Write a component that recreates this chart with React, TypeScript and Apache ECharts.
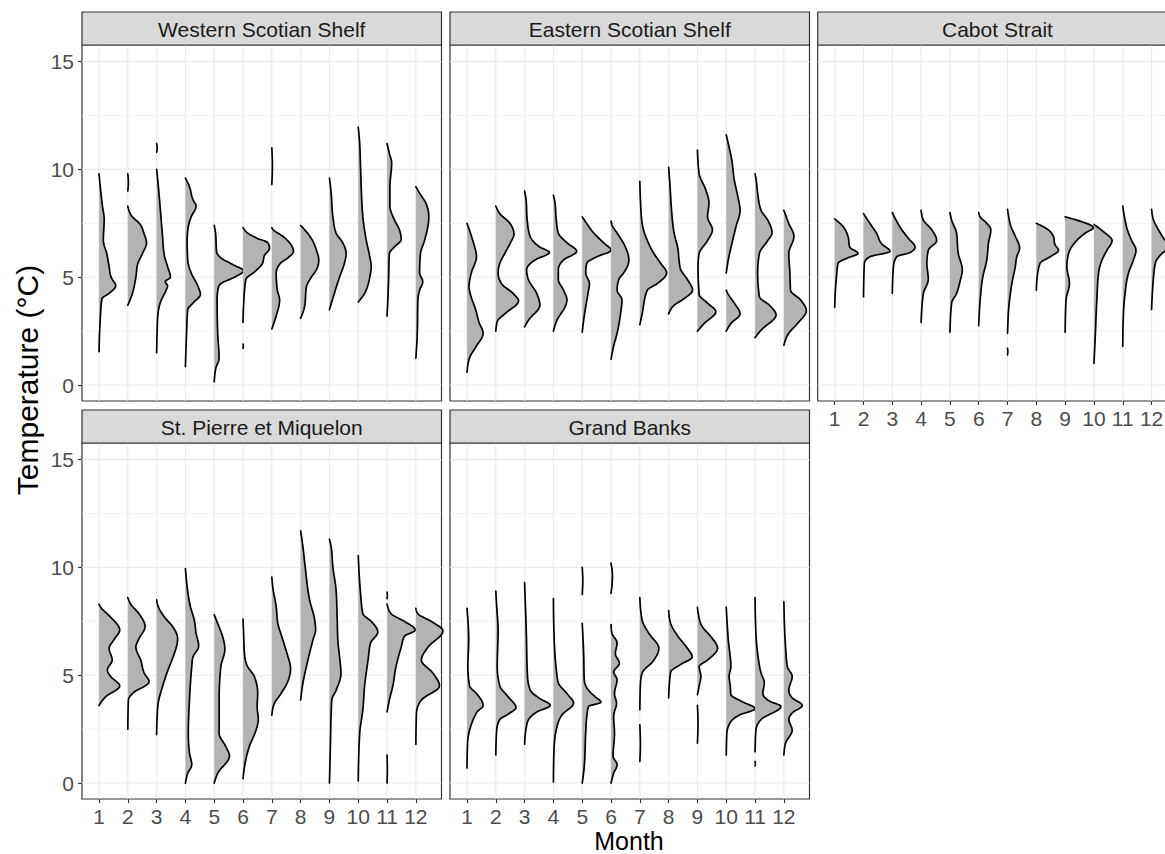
import React, { useEffect, useRef } from "react";
import * as echarts from "echarts";

// ---------- data ----------
const months = [1, 2, 3, 4, 5, 6, 7, 8, 9, 10, 11, 12];
const panelNames = [
  "Western Scotian Shelf",
  "Eastern Scotian Shelf",
  "Cabot Strait",
  "St. Pierre et Miquelon",
  "Grand Banks",
];
const yTickValues = [0, 5, 10, 15];
const yMinorValues = [2.5, 7.5, 12.5];
const xTitle = "Month";
const yTitle = "Temperature (°C)";

// each month: list of segments, each segment: [temperature, half-violin width (in month units)]
const westernScotianShelf: number[][][][] = [
  [[[1.55, 0], [2.4, 0.02], [3.2, 0.05], [4.0, 0.1], [4.25, 0.35], [4.6, 0.58], [5.0, 0.42], [5.5, 0.35], [6.1, 0.27], [6.7, 0.15], [7.7, 0.18], [8.3, 0.12], [9.0, 0.06], [9.8, 0]]],
  [[[3.7, 0], [4.25, 0.16], [5.0, 0.28], [5.6, 0.34], [6.1, 0.51], [6.6, 0.65], [7.0, 0.57], [7.5, 0.4], [7.8, 0.16], [8.3, 0]], [[9.0, 0], [9.4, 0.02], [9.8, 0]]],
  [[[1.5, 0], [2.5, 0.02], [3.2, 0.04], [3.9, 0.15], [4.4, 0.33], [4.6, 0.38], [4.8, 0.3], [5.0, 0.48], [5.5, 0.38], [6.0, 0.27], [7.0, 0.2], [8.3, 0.12], [9.5, 0.04], [10.0, 0]], [[10.8, 0], [11.0, 0.02], [11.2, 0]]],
  [[[0.85, 0], [2.4, 0.04], [3.5, 0.08], [3.8, 0.26], [4.2, 0.52], [4.6, 0.43], [5.2, 0.2], [5.8, 0.08], [6.7, 0.06], [7.35, 0.1], [7.8, 0.2], [8.3, 0.37], [8.6, 0.26], [9.2, 0.14], [9.6, 0]]],
  [[[0.15, 0], [0.8, 0.06], [1.25, 0.17], [2.4, 0.12], [4.0, 0.1], [4.5, 0.14], [4.7, 0.23], [5.0, 0.7], [5.3, 1.02], [5.55, 0.7], [5.9, 0.23], [6.2, 0.08], [7.0, 0.05], [7.4, 0]]],
  [[[1.7, 0], [1.8, 0.01], [1.9, 0]], [[2.9, 0], [3.95, 0.03], [4.9, 0.1], [5.25, 0.4], [5.65, 0.68], [6.0, 0.74], [6.35, 0.92], [6.6, 0.86], [6.8, 0.5], [7.05, 0.16], [7.3, 0]]],
  [[[2.6, 0], [3.2, 0.15], [3.95, 0.27], [4.4, 0.19], [5.2, 0.15], [5.65, 0.3], [5.9, 0.56], [6.2, 0.75], [6.5, 0.67], [6.9, 0.38], [7.2, 0.05], [7.3, 0]], [[9.3, 0], [10.2, 0.02], [11.0, 0]]],
  [[[3.1, 0], [3.65, 0.14], [4.55, 0.2], [5.0, 0.37], [5.35, 0.55], [5.8, 0.63], [6.25, 0.55], [6.8, 0.37], [7.2, 0.14], [7.4, 0]]],
  [[[3.5, 0], [4.25, 0.17], [5.0, 0.35], [5.65, 0.52], [6.1, 0.58], [6.6, 0.46], [7.05, 0.23], [7.8, 0.12], [8.9, 0.06], [9.6, 0]]],
  [[[3.85, 0], [4.25, 0.22], [4.65, 0.34], [5.0, 0.4], [5.5, 0.45], [5.95, 0.4], [6.7, 0.28], [7.8, 0.16], [10.1, 0.08], [11.2, 0.05], [11.95, 0]]],
  [[[3.2, 0], [4.7, 0.05], [6.1, 0.08], [6.4, 0.25], [6.75, 0.49], [7.2, 0.43], [7.65, 0.26], [8.3, 0.1], [9.2, 0.1], [10.3, 0.16], [10.75, 0.08], [11.2, 0]]],
  [[[1.25, 0], [2.4, 0.05], [3.95, 0.07], [4.4, 0.13], [4.8, 0.24], [5.2, 0.13], [6.1, 0.16], [6.7, 0.3], [7.8, 0.45], [8.4, 0.36], [8.9, 0.13], [9.2, 0]]],
];

const easternScotianShelf: number[][][][] = [
  [[[0.6, 0], [1.3, 0.1], [1.75, 0.3], [2.4, 0.56], [2.9, 0.42], [3.5, 0.3], [4.2, 0.12], [4.55, 0.07], [5.2, 0.15], [5.95, 0.33], [6.7, 0.2], [7.5, 0]]],
  [[[2.5, 0], [2.95, 0.05], [3.3, 0.31], [3.9, 0.79], [4.25, 0.6], [4.7, 0.2], [5.2, 0.08], [5.65, 0.14], [6.1, 0.31], [6.55, 0.49], [7.0, 0.63], [7.5, 0.49], [7.95, 0.14], [8.3, 0]]],
  [[[2.7, 0], [3.0, 0.13], [3.7, 0.53], [4.25, 0.42], [4.9, 0.13], [5.35, 0.07], [5.8, 0.36], [6.15, 0.86], [6.4, 0.53], [6.9, 0.19], [7.65, 0.09], [8.6, 0.05], [9.0, 0]]],
  [[[2.5, 0], [3.0, 0.12], [3.65, 0.41], [3.95, 0.47], [4.4, 0.35], [4.9, 0.17], [5.35, 0.17], [5.8, 0.35], [6.2, 0.81], [6.6, 0.47], [7.05, 0.17], [7.8, 0.09], [8.4, 0.06], [8.8, 0]]],
  [[[2.45, 0], [3.2, 0.07], [4.25, 0.2], [4.7, 0.25], [5.2, 0.12], [5.65, 0.16], [5.95, 0.51], [6.25, 1.0], [6.6, 0.74], [7.05, 0.4], [7.6, 0.1], [7.8, 0]]],
  [[[1.2, 0], [1.8, 0.09], [2.4, 0.21], [3.3, 0.33], [3.95, 0.38], [4.4, 0.21], [4.9, 0.27], [5.2, 0.44], [5.8, 0.62], [6.4, 0.5], [7.05, 0.21], [7.4, 0.04], [7.6, 0]]],
  [[[2.8, 0], [3.3, 0.08], [4.4, 0.26], [4.7, 0.6], [5.2, 0.93], [5.65, 0.72], [6.1, 0.49], [6.7, 0.26], [7.5, 0.08], [8.6, 0.02], [9.45, 0]]],
  [[[3.3, 0], [3.7, 0.19], [4.0, 0.53], [4.4, 0.83], [4.9, 0.65], [5.35, 0.42], [5.8, 0.36], [6.25, 0.33], [7.05, 0.19], [8.3, 0.09], [9.2, 0.05], [10.1, 0]]],
  [[[2.5, 0], [2.85, 0.23], [3.4, 0.64], [3.8, 0.35], [4.2, 0.06], [5.5, 0.02], [6.1, 0.06], [6.7, 0.35], [7.2, 0.52], [7.8, 0.35], [8.45, 0.4], [9.05, 0.29], [9.8, 0.06], [10.9, 0]]],
  [[[2.5, 0], [2.85, 0.16], [3.3, 0.48], [3.8, 0.28], [4.25, 0.05], [4.4, 0]], [[5.2, 0], [5.8, 0.07], [6.7, 0.22], [7.35, 0.34], [8.1, 0.48], [8.75, 0.4], [9.5, 0.28], [10.45, 0.19], [11.2, 0.07], [11.6, 0]]],
  [[[2.2, 0], [2.55, 0.21], [3.25, 0.73], [3.7, 0.5], [4.1, 0.15], [5.2, 0.09], [6.1, 0.15], [6.7, 0.44], [7.05, 0.59], [7.65, 0.44], [8.1, 0.21], [8.9, 0.09], [9.5, 0.04], [9.8, 0]]],
  [[[1.85, 0], [2.4, 0.17], [2.85, 0.47], [3.45, 0.78], [3.95, 0.58], [4.4, 0.23], [5.2, 0.21], [6.1, 0.17], [6.9, 0.35], [7.5, 0.17], [8.1, 0]]],
];

const cabotStrait: number[][][][] = [
  [[[3.6, 0], [5.0, 0.06], [5.65, 0.12], [5.9, 0.46], [6.1, 0.81], [6.4, 0.52], [6.9, 0.46], [7.35, 0.29], [7.7, 0]]],
  [[[4.1, 0], [5.65, 0.03], [5.95, 0.22], [6.2, 0.92], [6.55, 0.63], [7.05, 0.45], [7.5, 0.22], [7.95, 0]]],
  [[[4.25, 0], [5.5, 0.04], [5.95, 0.15], [6.15, 0.62], [6.4, 0.79], [6.8, 0.56], [7.2, 0.33], [7.75, 0.09], [8.0, 0]]],
  [[[2.9, 0], [4.25, 0.08], [4.9, 0.25], [5.65, 0.2], [6.25, 0.25], [6.7, 0.54], [7.2, 0.37], [7.65, 0.08], [8.1, 0]]],
  [[[2.45, 0], [3.8, 0.06], [4.25, 0.23], [4.8, 0.35], [5.35, 0.43], [6.1, 0.29], [7.05, 0.23], [7.65, 0.06], [8.0, 0]]],
  [[[2.75, 0], [3.95, 0.05], [5.0, 0.14], [5.8, 0.28], [6.6, 0.34], [7.2, 0.42], [7.5, 0.28], [7.8, 0.05], [8.0, 0]]],
  [[[1.4, 0], [1.55, 0.01], [1.7, 0]], [[2.4, 0], [3.95, 0.07], [4.7, 0.15], [5.5, 0.27], [5.95, 0.32], [6.35, 0.42], [6.9, 0.27], [7.35, 0.12], [7.8, 0.04], [8.15, 0]]],
  [[[4.4, 0], [5.0, 0.03], [5.65, 0.13], [5.95, 0.48], [6.25, 0.77], [6.5, 0.65], [6.9, 0.59], [7.25, 0.36], [7.5, 0]]],
  [[[2.45, 0], [3.95, 0.03], [4.7, 0.15], [5.5, 0.06], [6.1, 0.12], [6.7, 0.4], [7.05, 0.7], [7.3, 0.98], [7.6, 0.52], [7.8, 0]]],
  [[[1.0, 0], [2.4, 0.05], [3.95, 0.1], [5.2, 0.16], [5.8, 0.28], [6.25, 0.45], [6.7, 0.63], [7.1, 0.34], [7.45, 0]]],
  [[[1.8, 0], [3.2, 0.02], [4.25, 0.08], [5.2, 0.2], [5.8, 0.37], [6.25, 0.46], [6.7, 0.31], [7.2, 0.16], [7.65, 0.08], [8.3, 0]]],
  [[[3.5, 0], [4.7, 0.05], [5.65, 0.13], [6.1, 0.36], [6.4, 0.62], [6.8, 0.42], [7.2, 0.24], [7.65, 0.07], [8.15, 0]]],
];

const stPierreMiquelon: number[][][][] = [
  [[[3.6, 0], [4.0, 0.23], [4.5, 0.72], [4.95, 0.4], [5.25, 0.29], [5.7, 0.46], [6.25, 0.35], [6.65, 0.52], [7.1, 0.72], [7.7, 0.4], [8.15, 0.06], [8.3, 0]]],
  [[[2.5, 0], [3.85, 0.02], [4.15, 0.16], [4.7, 0.74], [5.1, 0.57], [5.7, 0.45], [6.3, 0.28], [6.7, 0.39], [7.25, 0.6], [7.85, 0.39], [8.3, 0.1], [8.6, 0]]],
  [[[2.25, 0], [3.55, 0.04], [4.5, 0.21], [5.4, 0.44], [5.8, 0.56], [6.7, 0.73], [7.25, 0.56], [7.7, 0.27], [8.25, 0.04], [8.5, 0]]],
  [[[0, 0], [0.45, 0.08], [0.85, 0.22], [1.4, 0.14], [2.3, 0.1], [3.85, 0.14], [5.4, 0.22], [5.8, 0.25], [6.35, 0.46], [6.95, 0.37], [7.55, 0.31], [8.2, 0.17], [9.1, 0.06], [9.95, 0]]],
  [[[0, 0], [0.45, 0.12], [1.25, 0.53], [1.7, 0.4], [2.3, 0.17], [3.85, 0.17], [5.4, 0.23], [6.2, 0.37], [6.8, 0.29], [7.4, 0.12], [7.8, 0]]],
  [[[0.2, 0], [0.75, 0.05], [1.7, 0.22], [2.45, 0.45], [2.95, 0.53], [3.55, 0.49], [4.15, 0.51], [4.95, 0.39], [5.4, 0.16], [6.0, 0.05], [6.95, 0.02], [7.6, 0]]],
  [[[3.15, 0], [3.7, 0.09], [4.15, 0.32], [4.8, 0.58], [5.3, 0.65], [6.0, 0.53], [6.65, 0.38], [7.4, 0.21], [8.2, 0.15], [9.1, 0.03], [9.55, 0]]],
  [[[3.85, 0], [4.65, 0.08], [5.4, 0.2], [6.65, 0.43], [7.1, 0.52], [7.55, 0.49], [8.5, 0.31], [10.0, 0.16], [10.95, 0.08], [11.7, 0]]],
  [[[0, 0], [1.55, 0.03], [3.85, 0.08], [4.3, 0.23], [5.1, 0.4], [5.85, 0.35], [6.65, 0.29], [7.55, 0.27], [8.95, 0.23], [10.0, 0.12], [10.95, 0.06], [11.3, 0]]],
  [[[0.1, 0], [2.3, 0.05], [3.4, 0.16], [4.5, 0.22], [5.7, 0.34], [6.5, 0.43], [7.0, 0.68], [7.5, 0.45], [7.85, 0.16], [8.8, 0.08], [10.55, 0]]],
  [[[0, 0], [0.65, 0.01], [1.3, 0]], [[3.3, 0], [3.85, 0.08], [4.5, 0.2], [5.4, 0.31], [6.3, 0.49], [6.8, 0.6], [7.1, 0.98], [7.5, 0.6], [7.85, 0.14], [8.2, 0.02], [8.3, 0]], [[8.55, 0], [8.7, 0.01], [8.85, 0]]],
  [[[1.8, 0], [3.25, 0.02], [3.85, 0.19], [4.5, 0.82], [5.1, 0.59], [5.7, 0.19], [6.3, 0.42], [7.05, 0.94], [7.5, 0.53], [7.85, 0.07], [8.1, 0]]],
];

const grandBanks: number[][][][] = [
  [[[0.7, 0], [1.85, 0.02], [2.45, 0.09], [3.1, 0.27], [3.3, 0.35], [3.6, 0.56], [4.15, 0.33], [4.5, 0.09], [5.4, 0.03], [6.65, 0.06], [8.1, 0]]],
  [[[1.3, 0], [2.45, 0.03], [2.95, 0.14], [3.15, 0.37], [3.5, 0.7], [4.0, 0.43], [4.5, 0.14], [5.4, 0.05], [7.1, 0.08], [8.2, 0.03], [8.9, 0]]],
  [[[1.8, 0], [2.6, 0.06], [2.95, 0.14], [3.3, 0.43], [3.6, 0.89], [3.95, 0.49], [4.3, 0.2], [4.95, 0.1], [6.95, 0.06], [9.3, 0]]],
  [[[0.05, 0], [1.55, 0.02], [2.6, 0.12], [3.15, 0.29], [3.7, 0.7], [4.15, 0.47], [4.65, 0.17], [5.4, 0.09], [6.95, 0.02], [8.55, 0]]],
  [[[0, 0], [0.75, 0.07], [2.3, 0.12], [3.1, 0.16], [3.55, 0.22], [3.75, 0.65], [4.0, 0.45], [4.3, 0.22], [4.8, 0.07], [6.0, 0.05], [7.4, 0]], [[8.75, 0], [9.4, 0.02], [10.0, 0]]],
  [[[0, 0], [0.45, 0.09], [0.85, 0.21], [1.25, 0.07], [2.3, 0.12], [3.1, 0.09], [3.7, 0.19], [4.15, 0.12], [4.8, 0.21], [5.15, 0.09], [5.55, 0.29], [6.0, 0.15], [6.5, 0.21], [6.95, 0.03], [7.35, 0]], [[8.8, 0], [9.6, 0.05], [10.2, 0]]],
  [[[1.0, 0], [1.8, 0.02], [2.7, 0]], [[3.4, 0], [4.6, 0.02], [5.1, 0.08], [5.7, 0.49], [6.25, 0.66], [6.95, 0.31], [7.55, 0.08], [8.6, 0]]],
  [[[3.95, 0], [5.15, 0.07], [5.5, 0.42], [5.85, 0.82], [6.25, 0.65], [6.85, 0.3], [7.4, 0.07], [8.0, 0]]],
  [[[1.85, 0], [2.8, 0.02], [3.6, 0]], [[4.1, 0], [4.5, 0.06], [4.95, 0.12], [5.4, 0.06], [5.7, 0.35], [6.25, 0.7], [6.8, 0.46], [7.25, 0.17], [7.85, 0.03], [8.15, 0]]],
  [[[1.3, 0], [2.3, 0.02], [2.85, 0.16], [3.15, 0.45], [3.45, 1.0], [3.8, 0.51], [4.1, 0.16], [4.5, 0.14], [4.95, 0.1], [5.4, 0.16], [6.65, 0.07], [8.15, 0]]],
  [[[0.8, 0], [0.9, 0.01], [1.0, 0]], [[1.45, 0], [2.45, 0.03], [2.95, 0.21], [3.55, 0.9], [3.8, 0.5], [4.15, 0.27], [4.65, 0.32], [5.1, 0.21], [6.0, 0.09], [6.95, 0.03], [8.6, 0]]],
  [[[1.3, 0], [1.85, 0.06], [2.45, 0.29], [2.95, 0.17], [3.25, 0.29], [3.6, 0.64], [3.95, 0.29], [4.3, 0.17], [4.95, 0.29], [5.4, 0.12], [6.3, 0.06], [8.4, 0]]],
];

// ---------- layout ----------
const FONT = "'Liberation Sans', Arial, Helvetica, sans-serif";
const PANEL_W = 359.5;
const PANEL_H = 356;
const STRIP_H = 33;
const X_MIN = 0.41;
const X_MAX = 12.89;
const Y_MIN = -0.74;
const Y_MAX = 15.77;

const layout = [
  { left: 82, top: 45, xLab: false, yLab: true },
  { left: 450, top: 45, xLab: false, yLab: false },
  { left: 817.7, top: 45, xLab: true, yLab: false },
  { left: 82, top: 443, xLab: true, yLab: true },
  { left: 450, top: 443, xLab: true, yLab: false },
];
const panelData = [westernScotianShelf, easternScotianShelf, cabotStrait, stPierreMiquelon, grandBanks];

// monotone cubic (in temperature) smoothing of an outline, for drawing only
function smoothOutline(seg: number[][]): number[][] {
  const n = seg.length;
  if (n < 3) return seg;
  const t = seg.map((p) => p[0]);
  const w = seg.map((p) => p[1]);
  const h: number[] = [];
  const d: number[] = [];
  for (let i = 0; i < n - 1; i++) {
    h.push(t[i + 1] - t[i]);
    d.push((w[i + 1] - w[i]) / (t[i + 1] - t[i]));
  }
  const m: number[] = new Array(n).fill(0);
  for (let i = 1; i < n - 1; i++) {
    const p = (d[i - 1] * h[i] + d[i] * h[i - 1]) / (h[i - 1] + h[i]);
    m[i] = (Math.sign(d[i - 1]) + Math.sign(d[i])) * Math.min(Math.abs(d[i - 1]), Math.abs(d[i]), 0.5 * Math.abs(p)) || 0;
  }
  m[0] = (3 * d[0] - m[1]) / 2;
  m[n - 1] = (3 * d[n - 2] - m[n - 2]) / 2;
  const out: number[][] = [];
  const steps = 8;
  for (let i = 0; i < n - 1; i++) {
    for (let k = 0; k < steps; k++) {
      const s = k / steps;
      const s2 = s * s;
      const s3 = s2 * s;
      const h00 = 2 * s3 - 3 * s2 + 1;
      const h10 = s3 - 2 * s2 + s;
      const h01 = -2 * s3 + 3 * s2;
      const h11 = s3 - s2;
      const wv = h00 * w[i] + h10 * h[i] * m[i] + h01 * w[i + 1] + h11 * h[i] * m[i + 1];
      out.push([t[i] + s * h[i], Math.max(0, wv)]);
    }
  }
  out.push([t[n - 1], w[n - 1]]);
  return out;
}

export default function App() {
  const ref = useRef<HTMLDivElement>(null);

  useEffect(() => {
    if (!ref.current) return;
    const chart = echarts.init(ref.current, undefined, { renderer: "svg" });

    const grids: any[] = [];
    const xAxes: any[] = [];
    const yAxes: any[] = [];
    const series: any[] = [];
    const graphics: any[] = [];

    layout.forEach((L, i) => {
      grids.push({
        left: L.left,
        top: L.top,
        width: PANEL_W,
        height: PANEL_H,
        containLabel: false,
        outerBoundsMode: "none",
        show: true,
        backgroundColor: "#ffffff",
        borderColor: "#333333",
        borderWidth: 1.2,
      });
      xAxes.push({
        type: "value",
        gridIndex: i,
        position: "bottom",
        min: X_MIN,
        max: X_MAX,
        splitLine: { show: false },
        axisLine: { show: false, onZero: false },
        axisTick: { show: L.xLab, customValues: months, length: 4, lineStyle: { color: "#333333", width: 1.1 } },
        axisLabel: { show: L.xLab, customValues: months, color: "#4D4D4D", fontSize: 21, lineHeight: 21, margin: 7, fontFamily: FONT },
      });
      yAxes.push({
        type: "value",
        gridIndex: i,
        position: "left",
        min: Y_MIN,
        max: Y_MAX,
        splitLine: { show: false },
        axisLine: { show: false, onZero: false },
        axisTick: { show: L.yLab, customValues: yTickValues, length: 4, lineStyle: { color: "#333333", width: 1.1 } },
        axisLabel: { show: L.yLab, customValues: yTickValues, color: "#4D4D4D", fontSize: 21, margin: 8, fontFamily: FONT },
      });

      // grid lines
      const lines: any[] = [];
      months.forEach((m) => lines.push([m, 0, 0]));
      yTickValues.forEach((v) => lines.push([1, v, 1]));
      yMinorValues.forEach((v) => lines.push([1, v, 2]));
      series.push({
        type: "custom",
        xAxisIndex: i,
        yAxisIndex: i,
        silent: true,
        z: 1,
        data: lines,
        renderItem: (params: any, api: any) => {
          const cs = params.coordSys;
          const kind = api.value(2);
          if (kind === 0) {
            const p = api.coord([api.value(0), 0]);
            return {
              type: "line",
              shape: { x1: p[0], y1: cs.y, x2: p[0], y2: cs.y + cs.height },
              style: { stroke: "#EBEBEB", lineWidth: 1.1 },
            };
          }
          const p = api.coord([X_MIN, api.value(1)]);
          return {
            type: "line",
            shape: { x1: cs.x, y1: p[1], x2: cs.x + cs.width, y2: p[1] },
            style: { stroke: kind === 1 ? "#EBEBEB" : "#F0F0F0", lineWidth: kind === 1 ? 1.1 : 0.8 },
          };
        },
      });

      // violins
      const segs: { month: number; seg: number[][] }[] = [];
      panelData[i].forEach((violin, mi) => {
        violin.forEach((seg) => segs.push({ month: months[mi], seg }));
      });
      series.push({
        type: "custom",
        xAxisIndex: i,
        yAxisIndex: i,
        silent: true,
        z: 2,
        clip: false,
        data: segs.map((s) => [s.month, s.seg[0][0]]),
        renderItem: (params: any, api: any) => {
          const item = segs[params.dataIndex];
          const dense = smoothOutline(item.seg);
          const pts = dense.map((p) => api.coord([item.month + p[1], p[0]]));
          const b0 = api.coord([item.month, item.seg[0][0]]);
          const b1 = api.coord([item.month, item.seg[item.seg.length - 1][0]]);
          return {
            type: "group",
            children: [
              { type: "polygon", shape: { points: [b0, ...pts, b1] }, style: { fill: "#B3B3B3", stroke: null } },
              { type: "polyline", shape: { points: pts }, style: { stroke: "#000000", lineWidth: 1.7, fill: null, lineJoin: "round", lineCap: "round" } },
            ],
          };
        },
      });

      // strip
      graphics.push({
        type: "rect",
        shape: { x: L.left, y: L.top - STRIP_H, width: PANEL_W, height: STRIP_H },
        style: { fill: "#D9D9D9", stroke: "#333333", lineWidth: 1.2 },
        z: 10,
      });
      graphics.push({
        type: "text",
        x: L.left + PANEL_W / 2,
        y: L.top - STRIP_H / 2 + 0.5,
        style: {
          text: panelNames[i],
          fill: "#1A1A1A",
          fontSize: 21,
          fontFamily: FONT,
          align: "center",
          verticalAlign: "middle",
        },
        z: 11,
      });
    });

    graphics.push({
      type: "text",
      x: 629,
      y: 840.5,
      style: { text: xTitle, fill: "#000000", fontSize: 25, lineHeight: 24, fontFamily: FONT, align: "center", verticalAlign: "middle" },
    });
    graphics.push({
      type: "text",
      x: 27.5,
      y: 380,
      rotation: Math.PI / 2,
      style: { text: yTitle, fill: "#000000", fontSize: 30, fontFamily: FONT, align: "center", verticalAlign: "middle" },
    });

    chart.setOption({
      animation: false,
      backgroundColor: "#ffffff",
      grid: grids,
      xAxis: xAxes,
      yAxis: yAxes,
      series,
      graphic: graphics,
    });

    return () => chart.dispose();
  }, []);

  return <div ref={ref} style={{ position: "absolute", left: 0, top: 0, width: 1165, height: 854 }} />;
}
